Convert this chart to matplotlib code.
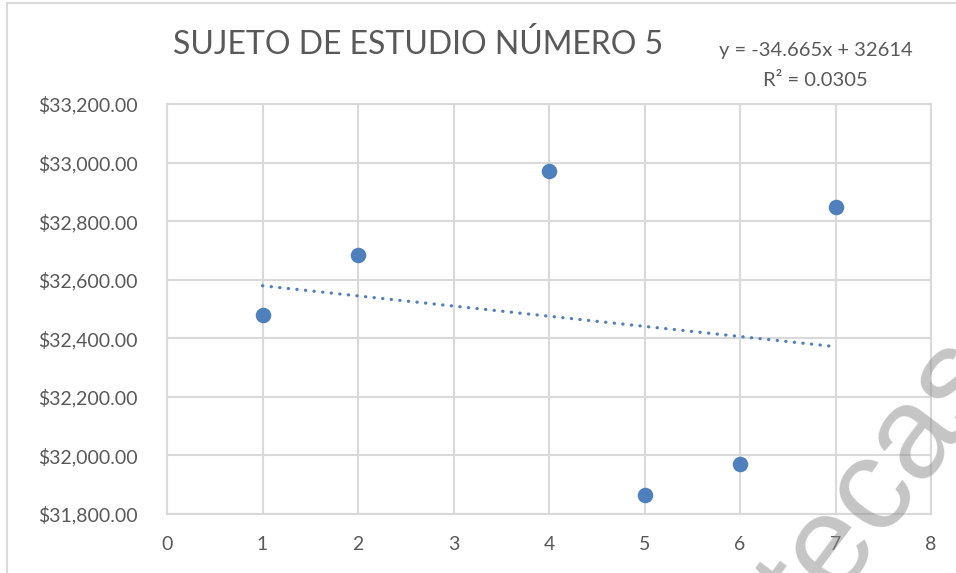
import numpy as np
import matplotlib.pyplot as plt
from matplotlib.ticker import FuncFormatter
from matplotlib.patches import Rectangle

# --------------------------------------------------
# Datos
# --------------------------------------------------
sujeto_x = [1, 2, 4, 5, 6, 7]
monto_y = [32480, 32686, 32972, 31866, 31969, 32848]

# Línea de tendencia (coeficientes del ajuste lineal)
pendiente = -34.665
intercepto = 32614
r2 = 0.0305

titulo = "SUJETO DE ESTUDIO NÚMERO 5"
x_ticks = list(range(0, 9))
y_ticks = list(range(31800, 33201, 200))

azul = "#4e80bd"
gris_txt = "#595959"
gris_rejilla = "#d9d9d9"
fuente = ["Lato", "DejaVu Sans"]

plt.rcParams["font.family"] = fuente

fig = plt.figure(figsize=(9.56, 5.73), dpi=100)
ax = fig.add_axes([0.1747, 0.1030, 0.7992, 0.7155])

# borde del área del gráfico
fig.patches.append(Rectangle((7 / 956, -0.05), 1.2, 1 - 3 / 573 + 0.05,
                             transform=fig.transFigure, fill=False,
                             edgecolor=gris_rejilla, linewidth=1.5))

# puntos
ax.scatter(sujeto_x, monto_y, s=125, color=azul, zorder=3, linewidths=0)

# tendencia lineal punteada
xt = np.array([min(sujeto_x), max(sujeto_x)])
ax.plot(xt, pendiente * xt + intercepto, color=azul, lw=2.3,
        linestyle=(0, (0.1, 2.6)), dash_capstyle="round", zorder=2)

ax.set_xlim(0, 8)
ax.set_ylim(31800, 33200)
ax.set_xticks(x_ticks)
ax.set_yticks(y_ticks)
ax.yaxis.set_major_formatter(FuncFormatter(lambda v, p: f"${v:,.2f}"))
ax.grid(True, color=gris_rejilla, linewidth=1.5)
ax.set_axisbelow(True)
for s in ax.spines.values():
    s.set_color(gris_rejilla)
    s.set_linewidth(1.5)
ax.tick_params(length=0, labelsize=14, labelcolor=gris_txt)
ax.tick_params(axis="y", pad=21)
ax.tick_params(axis="x", pad=16)

fig.text(0.437, 0.922, titulo, ha="center", va="center", fontsize=23,
         color=gris_txt)
fig.text(0.853, 0.912, f"y = {pendiente}x + {intercepto}", ha="center",
         va="center", fontsize=14.5, color=gris_txt)
fig.text(0.853, 0.860, f"R² = {r2}", ha="center", va="center",
         fontsize=14.5, color=gris_txt)

# marca de agua
fig.text(0.923, 0.159, "tecas", ha="center", va="center", rotation=53,
         rotation_mode="anchor", fontsize=95, color="#8c8c8c", alpha=0.5,
         family=["Liberation Sans", "DejaVu Sans"], zorder=10)

fig.savefig("out.png", dpi=100)
